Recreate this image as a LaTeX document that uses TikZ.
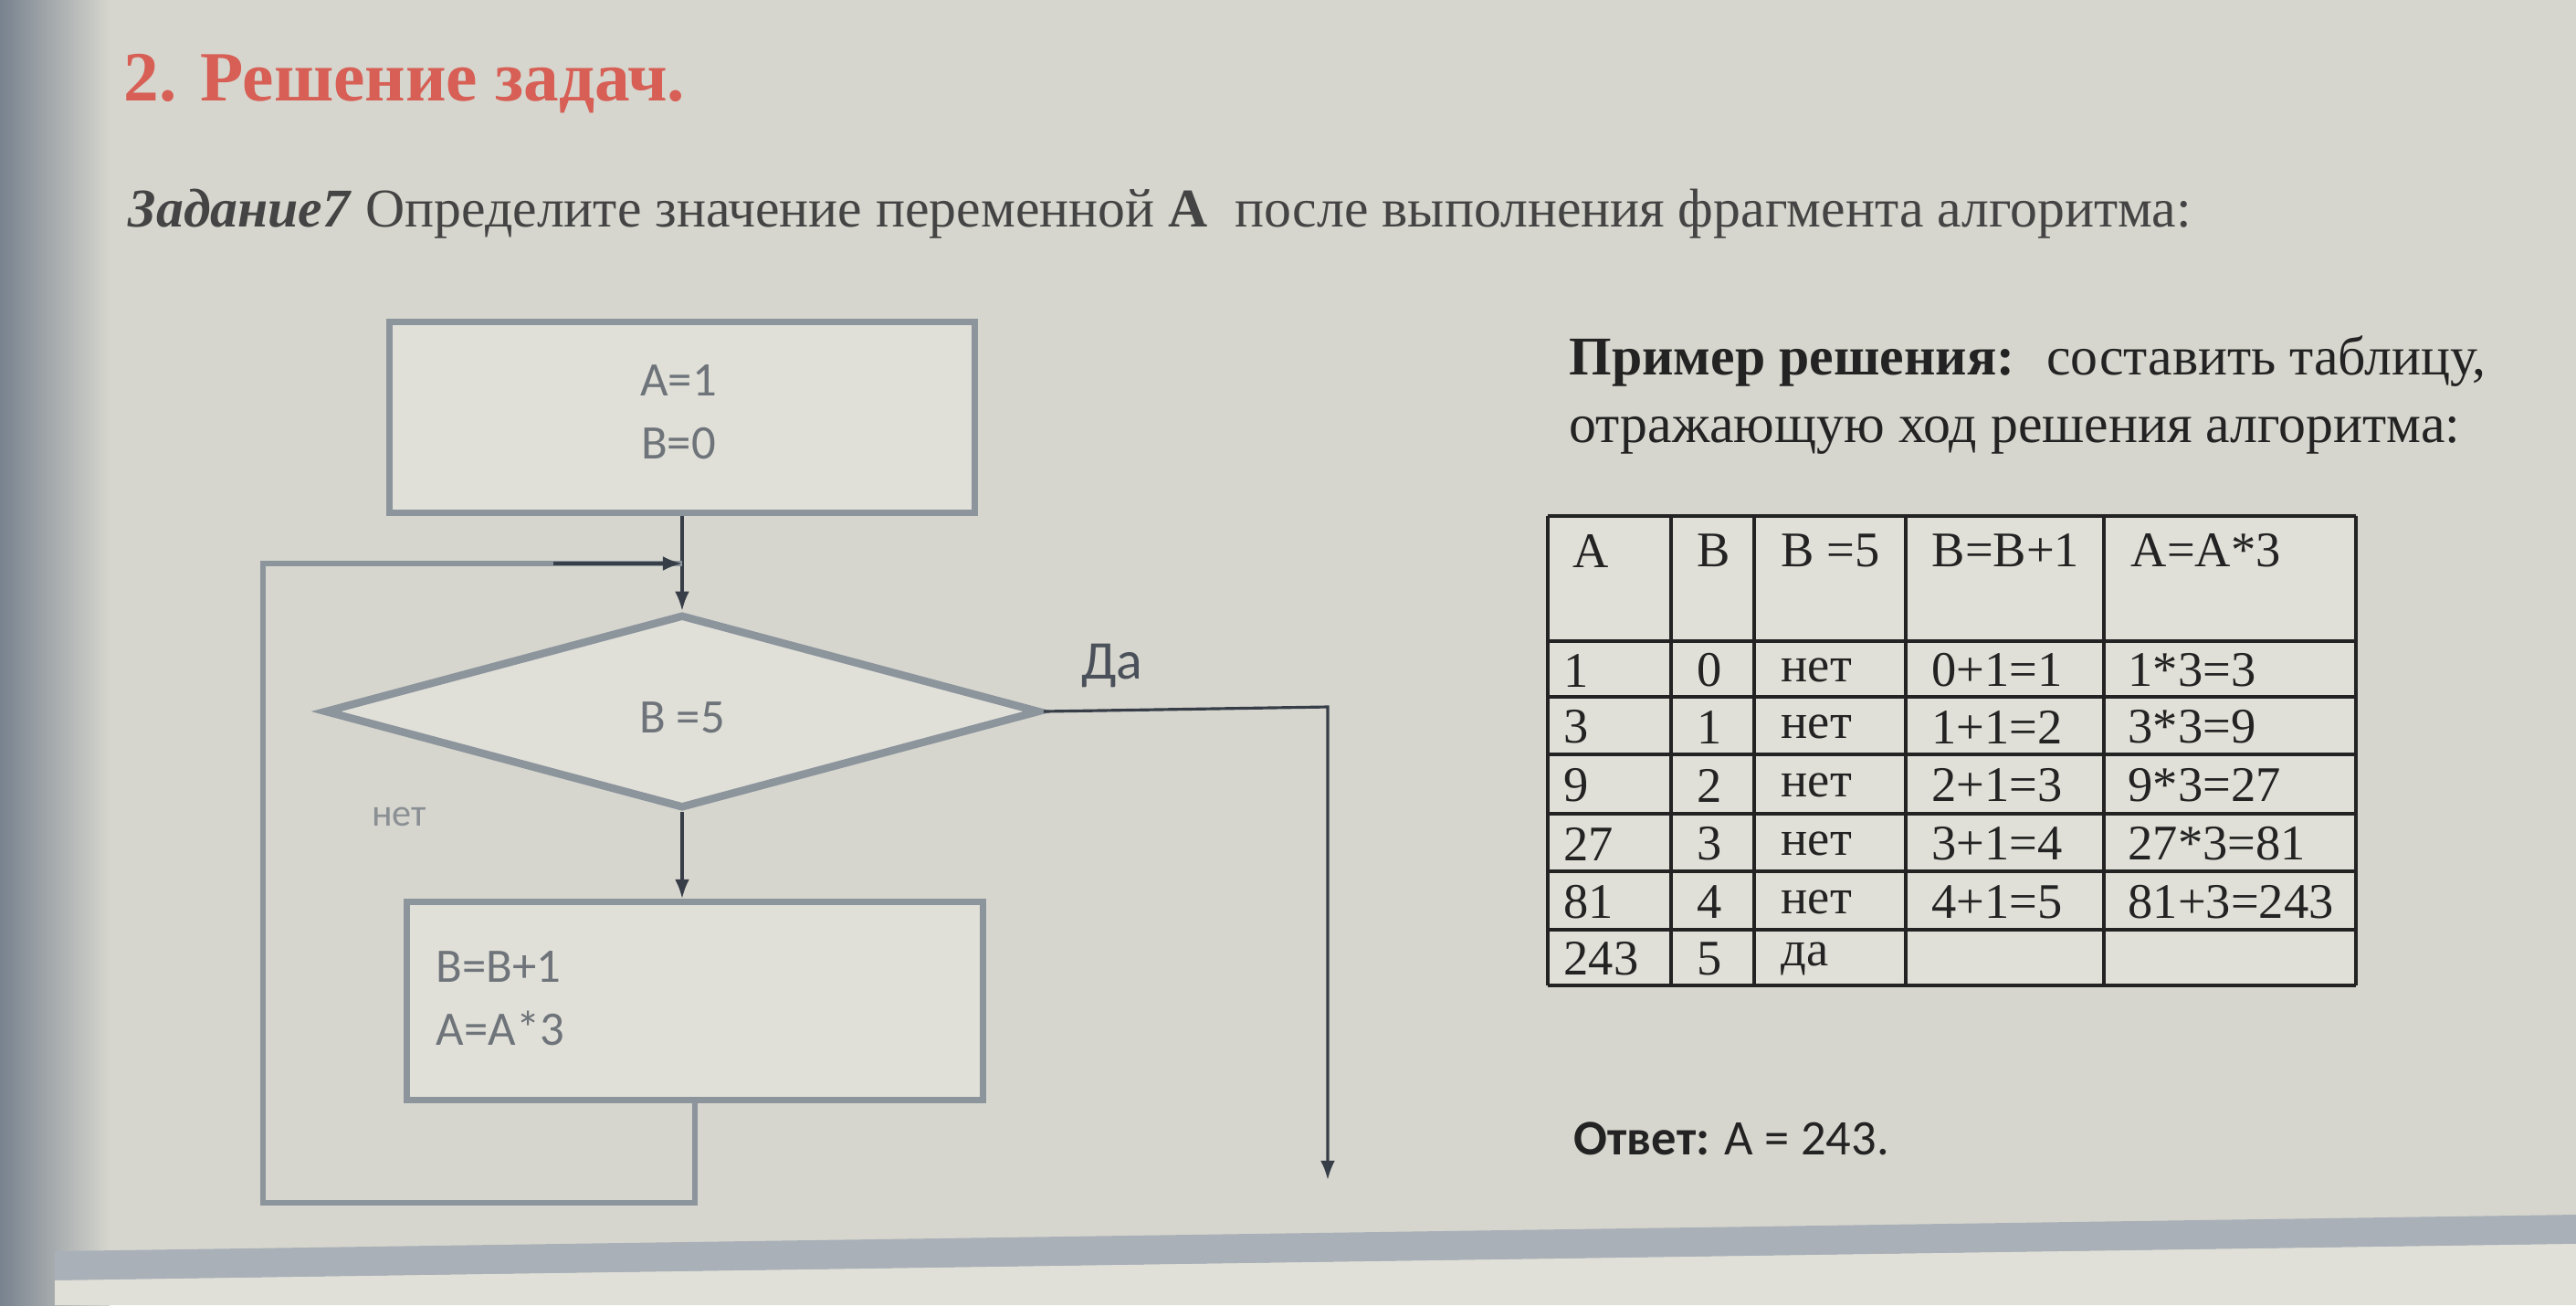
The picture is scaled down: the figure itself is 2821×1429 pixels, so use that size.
\documentclass[tikz,border=0pt]{standalone}
\usepackage{fontspec}
\setmainfont{Liberation Serif}
\newfontfamily\calibri{Carlito}
\usetikzlibrary{arrows.meta,shapes.geometric}
\definecolor{page}{RGB}{214,214,206}
\definecolor{pagelight}{RGB}{224,224,216}
\definecolor{strip}{RGB}{120,130,142}
\definecolor{band}{RGB}{150,160,175}
\definecolor{fcline}{RGB}{140,148,156}
\definecolor{fctxt}{RGB}{110,116,122}
\definecolor{conn}{RGB}{55,62,72}
\definecolor{titlered}{RGB}{215,95,85}
\definecolor{ink}{RGB}{35,35,35}
\tikzset{
  procbox/.style={draw=fcline, line width=2pt, fill=pagelight, inner sep=0pt},
  decbox/.style={diamond, draw=fcline, line width=2.4pt, fill=pagelight, inner sep=0pt},
  fctext/.style={font=\calibri\fontsize{15pt}{19.6pt}\selectfont, text=fctxt, inner sep=0pt},
  flow/.style={draw=conn, line width=0.9pt, -{Latex[length=6pt,width=4.5pt]}},
  loopline/.style={draw=fcline, line width=1.6pt},
  tabline/.style={draw=ink, line width=1.1pt},
  tabtxt/.style={font=\fontsize{15.5pt}{18pt}\selectfont, text=ink, inner sep=0pt, anchor=west},
  bodytxt/.style={font=\fontsize{17pt}{20pt}\selectfont, text=ink, inner sep=0pt, anchor=west}
}
\begin{document}
\begin{tikzpicture}[x=0.01cm,y=-0.01cm]
\useasboundingbox (0,0) rectangle (2821,1429);
% background (photographed screen)
\fill[page] (0,0) rectangle (2821,1429);
\shade[left color=strip, right color=page] (0,0) rectangle (120,1429);
\fill[band!70!page] (60,1370) -- (2821,1330) -- (2821,1362) -- (60,1402) -- cycle;
\fill[pagelight] (60,1402) -- (2821,1362) -- (2821,1429) -- (60,1429) -- cycle;

% title and task
\node[font=\bfseries\fontsize{22pt}{25pt}\selectfont, text=titlered, anchor=west, inner sep=0pt] (title) at (135,92) {2. Решение задач.};
\node[bodytxt, text=ink!85] (task) at (140,234) {\textbf{\textit{Задание7}} Определите значение переменной \textbf{А}~ после выполнения фрагмента алгоритма:};

% flowchart
\node[procbox, minimum width=6.40cm, minimum height=2.08cm] (init) at (747,457) {};
\node[fctext, align=center] (inittxt) at (743,451) {A=1\\B=0};
\node[decbox, minimum width=7.83cm, minimum height=2.12cm, aspect=3.69] (dec) at (747,779) {};
\node[fctext] (dectxt) at (747,786) {B =5};
\node[procbox, minimum width=6.30cm, minimum height=2.17cm] (body) at (761,1096) {};
\node[fctext, align=left, anchor=west] (bodytxt) at (477,1093) {B=B+1\\A=A*3};

\coordinate (join) at (747,617);
\coordinate (lb) at (288,1317);
\coordinate (lt) at (288,617);
\coordinate (yc) at (1454,774);
\coordinate (yend) at (1454,1292);

\draw[flow] (init.south) -- (dec.north);
\draw[flow] (dec.south) -- (dec.south |- body.north);
\draw[loopline] (body.south) |- (lb) -- (lt) -- (join);
\draw[flow, draw=conn] ([xshift=-40]join) -- (join);
\draw[flow] (dec.east) -- (yc) -- (yend);

\node[font=\calibri\fontsize{17pt}{20pt}\selectfont, text=conn!90, inner sep=0pt] (yes) at (1218,729) {Да};
\node[font=\calibri\fontsize{12pt}{14pt}\selectfont, text=fctxt!80, inner sep=0pt] (no) at (437,894) {нет};

% right text
\node[bodytxt] (ex1) at (1718,396) {\textbf{Пример решения:}~ составить таблицу,};
\node[bodytxt] (ex2) at (1718,477) {отражающую ход решения алгоритма:};

% table
\fill[pagelight] (1695,565) rectangle (2580,1079);
\foreach \y in {565,702,763,826,891,954,1018,1079}
  \draw[tabline] (1695,\y) -- (2580,\y);
\foreach \x in {1695,1830,1921,2087,2304,2580}
  \draw[tabline] (\x,565) -- (\x,1079);

\node[tabtxt] (h1) at (1722,603) {A};
\node[tabtxt] (h2) at (1858,603) {B};
\node[tabtxt] (h3) at (1950,603) {B =5};
\node[tabtxt] (h4) at (2115,603) {B=B+1};
\node[tabtxt] (h5) at (2333,603) {A=A*3};

\foreach \r/\yy/\a/\b/\c/\d/\e in {
  1/734/1/0/нет/0+1=1/1*3=3,
  2/796/3/1/нет/1+1=2/3*3=9,
  3/860/9/2/нет/2+1=3/9*3=27,
  4/924/27/3/нет/3+1=4/27*3=81,
  5/988/81/4/нет/4+1=5/81+3=243,
  6/1050/243/5/да//}{
  \node[tabtxt] (r\r c1) at (1712,\yy) {\a};
  \node[tabtxt] (r\r c2) at (1858,\yy) {\b};
  \node[tabtxt] (r\r c3) at (1950,\yy) {\c};
  \node[tabtxt] (r\r c4) at (2115,\yy) {\d};
  \node[tabtxt] (r\r c5) at (2330,\yy) {\e};
}

\node[font=\calibri\fontsize{15.5pt}{18pt}\selectfont, text=ink, inner sep=0pt, anchor=west] (ans) at (1723,1247) {\textbf{Ответ:} А = 243.};
\end{tikzpicture}
\end{document}
